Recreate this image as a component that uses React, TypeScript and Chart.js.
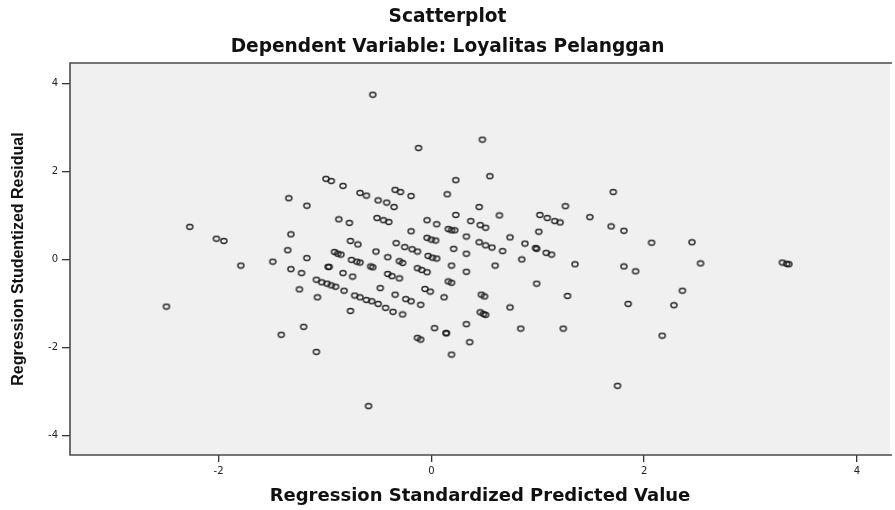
import React, { useEffect, useRef } from "react";
import { Chart, registerables } from "chart.js";

Chart.register(...registerables);

const titleLines = ["Scatterplot", "Dependent Variable: Loyalitas Pelanggan"];
const xAxisTitle = "Regression Standardized Predicted Value";
const yAxisTitle = "Regression Studentized Residual";

const xTickValues = [-2, 0, 2, 4];
const yTickValues = [-4, -2, 0, 2, 4];

const predicted = [
  -2.27, -2.02, -1.95, -1.79, -2.49, -1.49, -1.41, -1.35, -1.34, -1.32,
  -1.32, -1.24, -1.22, -1.2, -1.17, -1.17, -1.08, -1.07, -1.08, -1.03,
  -0.98, -0.94, -0.9, -0.99, -0.94, -0.97, -0.96, -0.91, -0.88, -0.85,
  -0.87, -0.77, -0.83, -0.83, -0.74, -0.82, -0.76, -0.76, -0.69, -0.75,
  -0.7, -0.67, -0.67, -0.61, -0.72, -0.67, -0.61, -0.56, -0.5, -0.57,
  -0.55, -0.52, -0.51, -0.45, -0.4, -0.5, -0.42, -0.35, -0.34, -0.29,
  -0.19, -0.48, -0.41, -0.37, -0.3, -0.41, -0.33, -0.25, -0.18, -0.13,
  -0.3, -0.27, -0.43, -0.36, -0.27, -0.34, -0.24, -0.19, -0.19, -0.13,
  -0.09, -0.04, -0.1, -0.13, -0.1, -0.12, -0.55, -0.04, 0.05, -0.04,
  0.0, 0.04, -0.03, 0.01, 0.05, -0.06, -0.01, 0.03, 0.12, 0.14,
  0.14, 0.19, 0.15, 0.23, 0.23, 0.16, 0.19, 0.22, 0.21, 0.19,
  0.16, 0.19, 0.33, 0.33, 0.33, 0.33, 0.36, 0.37, 0.46, 0.51,
  0.45, 0.55, 0.48, 0.45, 0.51, 0.57, 0.67, 0.47, 0.5, 0.46,
  0.49, 0.51, 0.6, 0.64, 0.74, 0.74, 0.84, 0.85, 0.88, 0.98,
  0.99, 1.08, 1.13, 1.01, 1.02, 1.09, 1.16, 1.21, 1.26, 0.99,
  1.24, 1.28, 1.35, 1.49, 1.71, 1.69, 1.81, 1.81, 1.92, 1.75,
  1.85, 2.07, 2.45, 2.53, 2.36, 2.28, 2.17, 3.3, 3.34, 3.36,
  -0.59,
];

const residual = [
  0.74, 0.47, 0.42, -0.14, -1.07, -0.05, -1.71, 0.21, 1.39, 0.57,
  -0.22, -0.68, -0.31, -1.53, 1.22, 0.03, -2.1, -0.86, -0.46, -0.52,
  -0.55, -0.59, -0.62, 1.83, 1.78, -0.17, -0.17, 0.17, 0.13, 0.11,
  0.91, 0.83, 1.67, -0.31, -0.39, -0.71, -1.17, 0.42, 0.34, -0.01,
  -0.05, -0.07, 1.51, 1.45, -0.82, -0.86, -0.92, -0.95, -1.01, -0.16,
  -0.18, 0.18, 0.94, 0.89, 0.85, 1.34, 1.29, 1.19, 1.58, 1.53,
  1.44, -0.65, -0.33, -0.38, -0.43, 0.05, 0.37, 0.28, 0.23, 0.18,
  -0.04, -0.08, -1.1, -1.19, -1.25, -0.8, -0.9, -0.95, 0.64, -0.2,
  -0.24, -0.29, -1.03, -1.78, -1.82, 2.53, 3.74, 0.89, 0.8, 0.49,
  0.45, 0.43, 0.08, 0.04, 0.02, -0.67, -0.73, -1.56, -0.86, -1.67,
  -1.68, -2.16, 1.48, 1.8, 1.01, 0.69, 0.66, 0.66, 0.24, -0.14,
  -0.5, -0.53, 0.52, 0.13, -0.28, -1.47, -1.88, 0.87, 0.78, 0.72,
  1.19, 1.89, 2.72, 0.39, 0.32, 0.27, 0.19, -0.8, -0.84, -1.2,
  -1.24, -1.26, -0.14, 1.0, 0.5, -1.09, -1.57, 0.0, 0.36, 0.26,
  0.24, 0.15, 0.11, 0.63, 1.01, 0.94, 0.87, 0.84, 1.21, -0.55,
  -1.57, -0.83, -0.11, 0.96, 1.53, 0.75, 0.65, -0.16, -0.27, -2.87,
  -1.01, 0.38, 0.39, -0.09, -0.71, -1.04, -1.73, -0.07, -0.1, -0.11,
  -3.33,
];

function makeMarker(): HTMLCanvasElement {
  const c = document.createElement("canvas");
  c.width = 10;
  c.height = 8;
  const g = c.getContext("2d")!;
  g.strokeStyle = "rgba(30,30,30,0.95)";
  g.lineWidth = 1.35;
  g.beginPath();
  g.ellipse(5, 4, 3.1, 2.45, 0, 0, Math.PI * 2);
  g.stroke();
  return c;
}

const framePlugin = {
  id: "frame",
  beforeDraw(chart: any) {
    const { ctx, chartArea: a } = chart;
    ctx.save();
    ctx.fillStyle = "#ffffff";
    ctx.fillRect(0, 0, chart.width, chart.height);
    ctx.fillStyle = "#f0f0f0";
    ctx.fillRect(a.left, a.top, a.right - a.left, a.bottom - a.top);
    ctx.restore();
  },
  afterDraw(chart: any) {
    const { ctx, chartArea: a } = chart;
    ctx.save();
    ctx.strokeStyle = "#4a4a4a";
    ctx.lineWidth = 1.6;
    ctx.beginPath();
    ctx.moveTo(a.right + 2, a.top);
    ctx.lineTo(a.left, a.top);
    ctx.lineTo(a.left, a.bottom);
    ctx.lineTo(a.right + 2, a.bottom);
    ctx.stroke();
    ctx.restore();
  },
};

export default function App() {
  const ref = useRef<HTMLCanvasElement | null>(null);

  useEffect(() => {
    if (!ref.current) return;
    const marker = makeMarker();
    const points = predicted.map((x, i) => ({ x, y: residual[i] }));
    const chart = new Chart(ref.current, {
      type: "scatter",
      data: {
        datasets: [
          {
            data: points,
            pointStyle: marker as any,
            pointRadius: 4,
            pointHoverRadius: 4,
          },
        ],
      },
      plugins: [framePlugin],
      options: {
        animation: false,
        responsive: false,
        events: [],
        layout: { padding: 0 },
        plugins: {
          legend: { display: false },
          tooltip: { enabled: false },
          title: {
            display: true,
            text: titleLines,
            color: "#111",
            font: {
              family: "'DejaVu Sans', sans-serif",
              weight: "bold",
              size: 18.6,
              lineHeight: "30px",
            },
            padding: { top: 2, bottom: 1 },
          },
        },
        scales: {
          x: {
            type: "linear",
            min: -3.396,
            max: 4.311,
            afterFit: (s: any) => {
              s.height = 55;
            },
            afterBuildTicks: (s: any) => {
              s.ticks = xTickValues.map((v) => ({ value: v }));
            },
            ticks: {
              color: "#222",
              padding: 3,
              maxRotation: 0,
              font: { family: "'DejaVu Sans', sans-serif", size: 10 },
              callback: (v: any) => String(v),
            },
            grid: {
              drawOnChartArea: false,
              drawTicks: true,
              tickLength: 7,
              color: "#333",
              lineWidth: 1.3,
            },
            border: { display: false },
            title: {
              display: true,
              text: xAxisTitle,
              color: "#111",
              font: {
                family: "'DejaVu Sans', sans-serif",
                weight: "bold",
                size: 18,
              },
              padding: { top: 0, bottom: 3 },
            },
          },
          y: {
            type: "linear",
            min: -4.44,
            max: 4.46,
            afterFit: (s: any) => {
              s.width = 70;
            },
            afterBuildTicks: (s: any) => {
              s.ticks = yTickValues.map((v) => ({ value: v }));
            },
            ticks: {
              color: "#222",
              padding: 4,
              font: { family: "'DejaVu Sans', sans-serif", size: 10 },
              callback: (v: any) => String(v),
            },
            grid: {
              drawOnChartArea: false,
              drawTicks: true,
              tickLength: 8,
              color: "#333",
              lineWidth: 1.3,
            },
            border: { display: false },
            title: {
              display: true,
              text: yAxisTitle,
              color: "#111",
              font: {
                family: "'Liberation Sans', Arial, sans-serif",
                weight: "bold",
                size: 16,
              },
              padding: { top: 9, bottom: 0 },
            },
          },
        },
      },
    });
    return () => chart.destroy();
  }, []);

  return (
    <div
      style={{
        position: "fixed",
        left: 0,
        top: 0,
        width: 895,
        height: 510,
        background: "#fff",
      }}
    >
      <canvas ref={ref} width={895} height={510} style={{ display: "block" }} />
    </div>
  );
}
